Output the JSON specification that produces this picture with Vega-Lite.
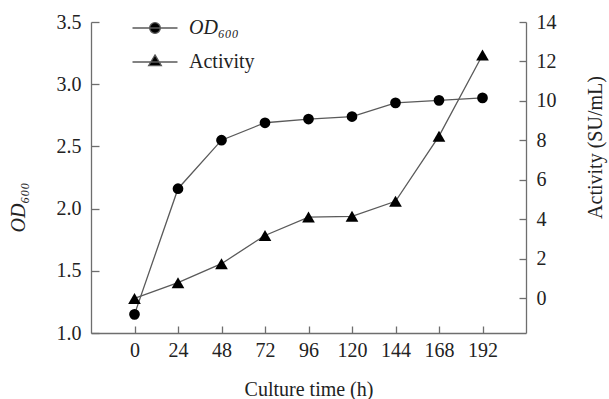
{
  "$schema": "https://vega.github.io/schema/vega-lite/v6.json",
  "autosize": {"type": "none"},
  "padding": {"left": 91, "top": 22, "right": 83, "bottom": 66},
  "width": 435,
  "height": 311,
  "background": "white",
  "config": {
    "font": "Liberation Serif",
    "view": {"stroke": null},
    "axis": {
      "grid": false,
      "domainColor": "#6e6e6e",
      "tickColor": "#6e6e6e",
      "domainWidth": 1.3,
      "tickWidth": 1.3,
      "labelFont": "Liberation Serif",
      "labelFontSize": 20,
      "labelColor": "#222222",
      "titleFont": "Liberation Serif",
      "titleFontSize": 20,
      "titleFontWeight": "normal",
      "titleColor": "#222222"
    }
  },
  "data": {
    "values": [
      {"time": 0, "series": "OD", "value": 1.15},
      {"time": 24, "series": "OD", "value": 2.16},
      {"time": 48, "series": "OD", "value": 2.55},
      {"time": 72, "series": "OD", "value": 2.69},
      {"time": 96, "series": "OD", "value": 2.72},
      {"time": 120, "series": "OD", "value": 2.74},
      {"time": 144, "series": "OD", "value": 2.85},
      {"time": 168, "series": "OD", "value": 2.87},
      {"time": 192, "series": "OD", "value": 2.89},
      {"time": 0, "series": "Activity", "value": 0.0},
      {"time": 24, "series": "Activity", "value": 0.8},
      {"time": 48, "series": "Activity", "value": 1.76},
      {"time": 72, "series": "Activity", "value": 3.19},
      {"time": 96, "series": "Activity", "value": 4.12},
      {"time": 120, "series": "Activity", "value": 4.16},
      {"time": 144, "series": "Activity", "value": 4.92},
      {"time": 168, "series": "Activity", "value": 8.22},
      {"time": 192, "series": "Activity", "value": 12.33}
    ]
  },
  "encoding": {
    "x": {
      "field": "time",
      "type": "quantitative",
      "scale": {"domain": [-24, 216], "nice": false, "zero": false},
      "axis": {
        "values": [0, 24, 48, 72, 96, 120, 144, 168, 192],
        "tickSize": -7,
        "labelPadding": 14,
        "title": "Culture time (h)",
        "titlePadding": 19
      }
    }
  },
  "layer": [
    {
      "transform": [{"filter": "datum.series === 'OD'"}],
      "encoding": {
        "y": {
          "field": "value",
          "type": "quantitative",
          "scale": {"domain": [1.0, 3.5], "nice": false, "zero": false},
          "axis": {
            "orient": "left",
            "values": [1.0, 1.5, 2.0, 2.5, 3.0, 3.5],
            "format": ".1f",
            "tickSize": -8,
            "labelPadding": 18,
            "title": "OD₆₀₀",
            "titleFontStyle": "italic",
            "titlePadding": 28,
            "titleY": 185
          }
        }
      },
      "layer": [
        {"mark": {"type": "line", "color": "#5a5a5a", "strokeWidth": 1.3}},
        {
          "mark": {"type": "point", "filled": true, "shape": "circle", "size": 115, "opacity": 1},
          "encoding": {
            "color": {
              "field": "series",
              "type": "nominal",
              "scale": {"domain": ["OD", "Activity"], "range": ["black", "black"]},
              "legend": {
                "title": null,
                "orient": "none",
                "legendX": 53,
                "legendY": -5,
                "padding": 0,
                "symbolSize": 400,
                "symbolStrokeWidth": 1.3,
                "labelOffset": 23,
                "labelFontSize": 20,
                "labelColor": "#222222",
                "labelFont": "Liberation Serif",
                "rowPadding": 13,
                "labelExpr": "datum.value === 'OD' ? 'OD₆₀₀' : 'Activity'",
                "encoding": {
                  "symbols": {
                    "shape": {
                      "condition": {"test": "datum.value === 'OD'", "value": "M-2.25,0H2.25M0.535,0A0.535,0.535,0,1,1,-0.535,0A0.535,0.535,0,1,1,0.535,0Z"},
                      "value": "M-2.25,0H2.25M0,-0.71L0.635,0.36L-0.635,0.36Z"
                    },
                    "stroke": {"value": "#5a5a5a"},
                    "strokeWidth": {"value": 1.3}
                  },
                  "labels": {
                    "fontStyle": {
                      "condition": {"test": "datum.value === 'OD'", "value": "italic"},
                      "value": "normal"
                    }
                  }
                }
              }
            }
          }
        }
      ]
    },
    {
      "transform": [{"filter": "datum.series === 'Activity'"}],
      "encoding": {
        "y": {
          "field": "value",
          "type": "quantitative",
          "scale": {"domain": [-1.75, 14], "nice": false, "zero": false},
          "axis": {
            "orient": "right",
            "values": [0, 2, 4, 6, 8, 10, 12, 14],
            "tickSize": -7,
            "labelPadding": 17,
            "title": "Activity (SU/mL)",
            "titleAngle": -90,
            "titlePadding": 49,
            "titleY": 125
          }
        }
      },
      "layer": [
        {"mark": {"type": "line", "color": "#5a5a5a", "strokeWidth": 1.3}},
        {
          "mark": {"type": "point", "filled": true, "shape": "triangle-up", "size": 161, "opacity": 1},
          "encoding": {
            "color": {"field": "series", "type": "nominal"}
          }
        }
      ]
    }
  ],
  "resolve": {"scale": {"y": "independent"}}
}
